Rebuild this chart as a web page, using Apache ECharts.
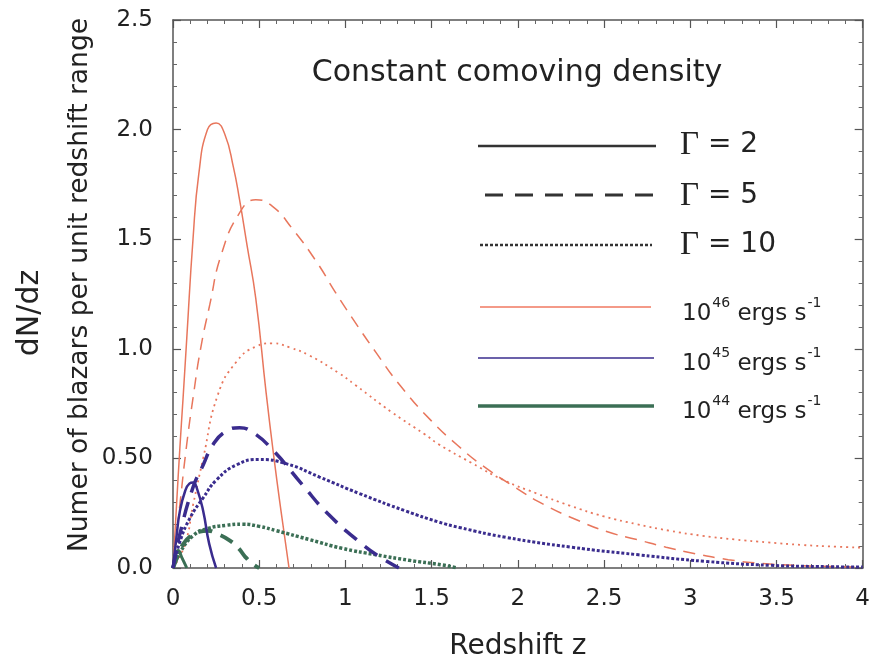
<!DOCTYPE html>
<html>
<head>
<meta charset="utf-8">
<script src="https://cdn.jsdelivr.net/npm/echarts@6/dist/echarts.min.js"></script>
<style>html,body{margin:0;padding:0;background:#fff}#c{width:873px;height:666px}</style>
</head>
<body>
<div id="c"></div>
<script>
// ---- Data ----
var xTickLabels = ['0', '0.5', '1', '1.5', '2', '2.5', '3', '3.5', '4'];
var yTickLabels = ['0.0', '0.50', '1.0', '1.5', '2.0', '2.5'];

// 10^46 ergs/s (red)
var z46g2  = [0, 0.02, 0.04, 0.058, 0.08, 0.116, 0.15, 0.2, 0.25, 0.3, 0.35, 0.386, 0.43, 0.48, 0.54, 0.586, 0.63, 0.673];
var y46g2  = [0, 0.28, 0.55, 0.77, 1.05, 1.50, 1.80, 2.0, 2.03, 1.98, 1.83, 1.68, 1.47, 1.23, 0.80, 0.50, 0.24, 0];
var z46g5  = [0, 0.04, 0.079, 0.117, 0.16, 0.213, 0.28, 0.386, 0.48, 0.577, 0.69, 0.83, 0.94, 1.04, 1.18, 1.32, 1.5, 1.65, 1.79, 1.98, 2.15, 2.34, 2.52, 2.69, 2.86, 3.03, 3.22, 3.4, 3.6, 3.8, 4.0];
var y46g5  = [0, 0.29, 0.56, 0.78, 1.0, 1.2, 1.43, 1.62, 1.68, 1.65, 1.55, 1.40, 1.26, 1.14, 0.98, 0.83, 0.67, 0.56, 0.47, 0.37, 0.29, 0.22, 0.165, 0.13, 0.095, 0.065, 0.038, 0.022, 0.012, 0.007, 0.004];
var z46g10 = [0, 0.07, 0.117, 0.175, 0.26, 0.367, 0.48, 0.577, 0.68, 0.79, 0.96, 1.057, 1.27, 1.46, 1.54, 1.73, 1.92, 2.11, 2.30, 2.50, 2.69, 2.88, 3.07, 3.26, 3.45, 3.65, 3.85, 4.0];
var y46g10 = [0, 0.11, 0.29, 0.50, 0.79, 0.94, 1.01, 1.025, 1.005, 0.97, 0.89, 0.835, 0.71, 0.61, 0.565, 0.48, 0.40, 0.34, 0.285, 0.235, 0.20, 0.17, 0.147, 0.13, 0.117, 0.105, 0.097, 0.093];

// 10^45 ergs/s (blue)
var z45g2  = [0, 0.02, 0.04, 0.07, 0.095, 0.117, 0.14, 0.175, 0.21, 0.25];
var y45g2  = [0, 0.14, 0.26, 0.35, 0.385, 0.39, 0.36, 0.26, 0.11, 0];
var z45g5  = [0, 0.04, 0.117, 0.175, 0.23, 0.3, 0.386, 0.46, 0.577, 0.75, 0.90, 1.095, 1.2, 1.31];
var y45g5  = [0, 0.155, 0.37, 0.47, 0.56, 0.62, 0.64, 0.62, 0.54, 0.38, 0.246, 0.11, 0.05, 0];
var z45g10 = [0, 0.04, 0.10, 0.175, 0.25, 0.367, 0.50, 0.66, 0.85, 1.08, 1.35, 1.54, 1.66, 1.93, 2.31, 2.70, 3.09, 3.47, 3.8, 4.0];
var y45g10 = [0, 0.12, 0.23, 0.32, 0.40, 0.47, 0.495, 0.475, 0.415, 0.34, 0.26, 0.21, 0.185, 0.14, 0.095, 0.06, 0.03, 0.012, 0.006, 0.004];

// 10^44 ergs/s (green)
var z44g2  = [0, 0.015, 0.03, 0.05, 0.08];
var y44g2  = [0, 0.06, 0.08, 0.05, 0];
var z44g5  = [0, 0.03, 0.06, 0.1, 0.15, 0.2, 0.26, 0.33, 0.38, 0.42, 0.46, 0.5];
var y44g5  = [0, 0.06, 0.11, 0.145, 0.165, 0.17, 0.155, 0.125, 0.09, 0.05, 0.02, 0];
var z44g10 = [0, 0.04, 0.12, 0.2, 0.31, 0.40, 0.50, 0.60, 0.79, 0.98, 1.18, 1.37, 1.56, 1.65];
var y44g10 = [0, 0.07, 0.15, 0.18, 0.195, 0.20, 0.19, 0.17, 0.13, 0.09, 0.06, 0.035, 0.014, 0];

var gammaLabels = ['2', '5', '10'];
var lumExponents = ['46', '45', '44'];

// ---- Styles ----
var RED = '#e8765c', BLUE = '#3a2c8e', GREEN = '#3b6f55';
var FONT = 'DejaVu Sans';
var TXT = '#222';

function pairs(zs, ys) { return zs.map(function (z, i) { return [z, ys[i]]; }); }
function ser(name, zs, ys, color, width, dash) {
  return {
    name: name, type: 'line', data: pairs(zs, ys), showSymbol: false, symbol: 'none',
    smooth: 0.5, animation: false, silent: true, xAxisIndex: 0, yAxisIndex: 0,
    lineStyle: { color: color, width: width, type: dash || 'solid', cap: 'butt' }
  };
}

var series = [
  ser('46-2', z46g2, y46g2, RED, 1.5),
  ser('46-5', z46g5, y46g5, RED, 1.5, [12, 8]),
  ser('46-10', z46g10, y46g10, RED, 1.8, [2, 4]),
  ser('44-2', z44g2, y44g2, GREEN, 3),
  ser('44-5', z44g5, y44g5, GREEN, 4, [14, 9]),
  ser('44-10', z44g10, y44g10, GREEN, 3.5, [3, 2]),
  ser('45-2', z45g2, y45g2, BLUE, 2.5),
  ser('45-5', z45g5, y45g5, BLUE, 3.5, [16, 10]),
  ser('45-10', z45g10, y45g10, BLUE, 3, [3, 2])
];

function axisCommon(extra) {
  var a = {
    type: 'value',
    axisLine: { show: true, onZero: false, lineStyle: { color: '#555', width: 1.5 } },
    axisTick: { show: true, inside: true, length: 8, lineStyle: { color: '#555', width: 1.2 } },
    minorTick: { show: true, splitNumber: 5, length: 4, lineStyle: { color: '#666', width: 1 } },
    splitLine: { show: false },
    minorSplitLine: { show: false }
  };
  for (var k in extra) a[k] = extra[k];
  return a;
}

var legendX1 = 478, legendX2 = 654;
var graphic = [
  { type: 'text', x: 517, y: 73, style: { text: 'Constant comoving density', fontFamily: FONT, fontSize: 30, fill: TXT, align: 'center', verticalAlign: 'middle' } },
  { type: 'line', shape: { x1: legendX1, y1: 146, x2: legendX2 + 2, y2: 146 }, style: { stroke: '#333', lineWidth: 2.5 } },
  { type: 'line', shape: { x1: 485, y1: 195, x2: legendX2, y2: 195 }, style: { stroke: '#333', lineWidth: 3, lineDash: [18, 12] } },
  { type: 'line', shape: { x1: 480, y1: 245, x2: legendX2 - 2, y2: 245 }, style: { stroke: '#333', lineWidth: 2.5, lineDash: [3, 2] } },
  { type: 'line', shape: { x1: 480, y1: 307, x2: legendX2 - 3, y2: 307 }, style: { stroke: '#f49a88', lineWidth: 2 } },
  { type: 'line', shape: { x1: legendX1, y1: 358, x2: legendX2, y2: 358 }, style: { stroke: BLUE, lineWidth: 1.6 } },
  { type: 'line', shape: { x1: legendX1, y1: 406, x2: legendX2, y2: 406 }, style: { stroke: GREEN, lineWidth: 3.5 } }
];
var gammaY = [145, 196, 245];
gammaLabels.forEach(function (g, i) {
  graphic.push({ type: 'text', x: 680, y: gammaY[i], style: {
    text: '{g|\u0393}{t| = ' + g + '}', verticalAlign: 'middle', align: 'left', fill: TXT,
    rich: { g: { fontFamily: 'Liberation Serif', fontSize: 33, fill: TXT }, t: { fontFamily: FONT, fontSize: 28, fill: TXT } }
  } });
});
var lumY = [311, 361, 409];
lumExponents.forEach(function (e, i) {
  graphic.push({ type: 'text', x: 682, y: lumY[i], style: {
    text: '{a|10}{b|' + e + '}{a| ergs s}{b|-1}', verticalAlign: 'middle', align: 'left', fill: TXT,
    rich: {
      a: { fontFamily: FONT, fontSize: 23, lineHeight: 30, verticalAlign: 'bottom', fill: TXT },
      b: { fontFamily: FONT, fontSize: 14, lineHeight: 30, verticalAlign: 'top', fill: TXT, padding: [0, 0, 0, 1] }
    }
  } });
});
graphic.push({ type: 'text', x: 30, y: 313, rotation: Math.PI / 2, style: { text: 'dN/dz', fontFamily: FONT, fontSize: 30, fill: TXT, align: 'center', verticalAlign: 'middle' } });
graphic.push({ type: 'text', x: 80, y: 285, rotation: Math.PI / 2, style: { text: 'Numer of blazars per unit redshift range', fontFamily: FONT, fontSize: 26.5, fill: TXT, align: 'center', verticalAlign: 'middle' } });

var option = {
  backgroundColor: '#fff',
  animation: false,
  grid: { left: 173, right: 5, top: 20, bottom: 94, containLabel: false, show: false },
  xAxis: [
    axisCommon({ position: 'bottom', min: 0, max: 4, interval: 0.5,
      axisLabel: { show: true, margin: 20, fontFamily: FONT, fontSize: 23, color: TXT,
        formatter: function (v) { return xTickLabels[Math.round(v / 0.5)]; } },
      name: 'Redshift z', nameLocation: 'middle', nameGap: 79,
      nameTextStyle: { fontFamily: FONT, fontSize: 28, color: TXT, verticalAlign: 'middle' } }),
    axisCommon({ position: 'top', min: 0, max: 4, interval: 0.5, axisLabel: { show: false } })
  ],
  yAxis: [
    axisCommon({ position: 'left', min: 0, max: 2.5, interval: 0.5,
      axisLabel: { show: true, margin: 20, fontFamily: FONT, fontSize: 23, color: TXT,
        formatter: function (v) { return yTickLabels[Math.round(v / 0.5)]; } } }),
    axisCommon({ position: 'right', min: 0, max: 2.5, interval: 0.5, axisLabel: { show: false } })
  ],
  series: series,
  graphic: graphic
};

var chart = echarts.init(document.getElementById('c'), null, { renderer: 'canvas' });
chart.setOption(option);
</script>
</body>
</html>
